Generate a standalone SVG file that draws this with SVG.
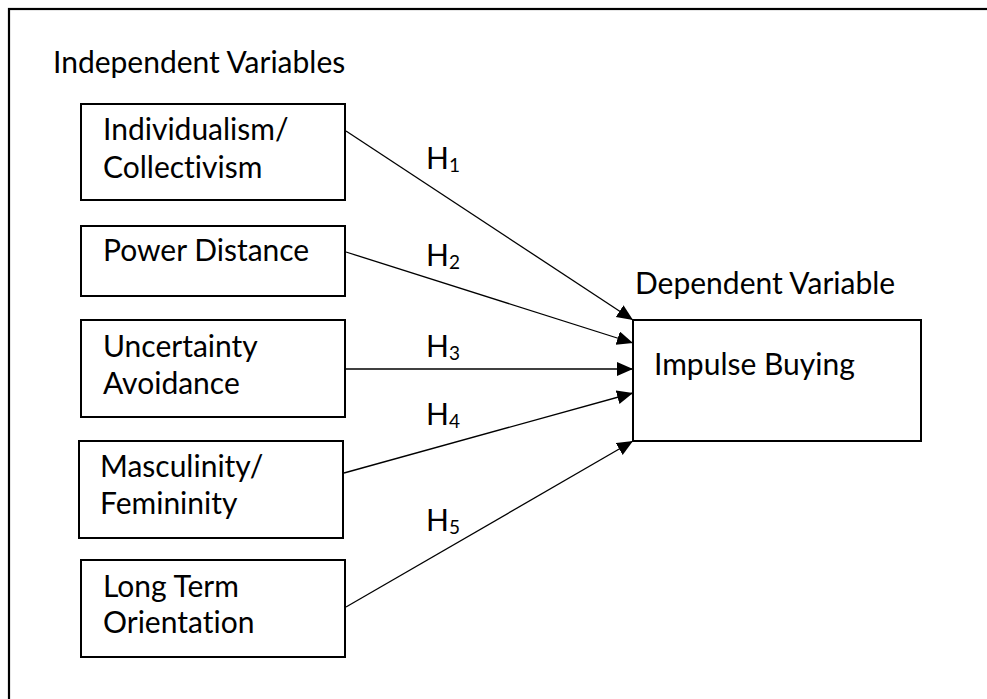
<svg xmlns="http://www.w3.org/2000/svg" width="987" height="699" viewBox="0 0 987 699">
<defs>
<style>
text { font-family: Lato, "Open Sans", "Liberation Sans", sans-serif; font-size: 30px; fill: #000; font-variant-ligatures: none; }
.box { fill: #fff; stroke: #000; stroke-width: 2; }
.edge { stroke: #000; stroke-width: 1.3; fill: none; marker-end: url(#arrow); }
.sub { font-size: 19px; }
</style>
<marker id="arrow" markerUnits="userSpaceOnUse" markerWidth="17" markerHeight="15" refX="16" refY="7" orient="auto">
<path d="M0,0 L16,7 L0,14 z" fill="#000"/>
</marker>
</defs>
<rect x="0" y="0" width="987" height="699" fill="#fff"/>
<rect x="9" y="9" width="1000" height="720" fill="none" stroke="#000" stroke-width="2.2"/>
<text x="53" y="73">Independent Variables</text>
<text x="635" y="294">Dependent Variable</text>
<g id="connectors">
<line class="edge" x1="346" y1="131" x2="633" y2="320"/>
<line class="edge" x1="346" y1="252" x2="633" y2="343"/>
<line class="edge" x1="346" y1="369" x2="633" y2="369"/>
<line class="edge" x1="344" y1="473" x2="633" y2="393"/>
<line class="edge" x1="346" y1="607" x2="633" y2="441"/>
<text x="426" y="169">H<tspan class="sub" dy="3">1</tspan></text>
<text x="426" y="266">H<tspan class="sub" dy="3">2</tspan></text>
<text x="426" y="357">H<tspan class="sub" dy="3">3</tspan></text>
<text x="426" y="425">H<tspan class="sub" dy="3">4</tspan></text>
<text x="426" y="531">H<tspan class="sub" dy="3">5</tspan></text>
</g>
<g id="n1">
<rect class="box" x="81" y="104" width="264" height="96"/>
<text x="103" y="140">Individualism/</text>
<text x="103" y="178">Collectivism</text>
</g>
<g id="n2">
<rect class="box" x="81" y="226" width="264" height="70"/>
<text x="103" y="261">Power Distance</text>
</g>
<g id="n3">
<rect class="box" x="81" y="320" width="264" height="97"/>
<text x="103" y="357">Uncertainty</text>
<text x="103" y="394">Avoidance</text>
</g>
<g id="n4">
<rect class="box" x="79" y="441" width="264" height="97"/>
<text x="100" y="477">Masculinity/</text>
<text x="100" y="514">Femininity</text>
</g>
<g id="n5">
<rect class="box" x="81" y="560" width="264" height="97"/>
<text x="103" y="597">Long Term</text>
<text x="103" y="633">Orientation</text>
</g>
<g id="dv">
<rect class="box" x="633" y="320" width="288" height="121"/>
<text x="654" y="375">Impulse Buying</text>
</g>
</svg>
